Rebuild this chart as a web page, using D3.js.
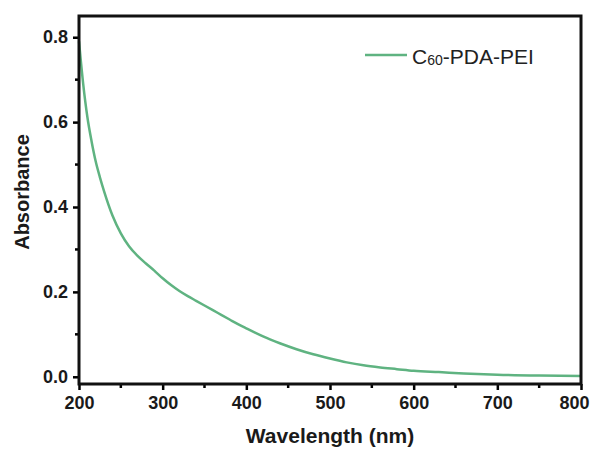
<!DOCTYPE html>
<html>
<head>
<meta charset="utf-8">
<script src="https://cdn.jsdelivr.net/npm/d3@7"></script>
<style>
	body { margin: 0; background: #fff; }
	svg text { font-family: "Liberation Sans", Arial, sans-serif; }
</style>
</head>
<body>
<div id="chart"></div>
<script>
let width = 590;
let height = 450;
let margin = {top: 16, right: 9, bottom: 66, left: 79};

// absorbance spectrum
let wavelength = [200, 205, 210, 215, 220, 225, 230, 240, 250, 260, 270, 280, 290, 300, 310, 320, 330, 340, 350, 360, 370, 380, 390, 400, 420, 440, 460, 480, 500, 520, 540, 560, 580, 600, 630, 660, 700, 750, 800];
let absorbance = [0.79, 0.69, 0.612, 0.555, 0.507, 0.47, 0.437, 0.38, 0.338, 0.307, 0.285, 0.267, 0.25, 0.232, 0.216, 0.202, 0.19, 0.179, 0.168, 0.157, 0.146, 0.135, 0.124, 0.114, 0.095, 0.079, 0.065, 0.053, 0.043, 0.034, 0.027, 0.022, 0.018, 0.014, 0.011, 0.008, 0.005, 0.003, 0.002];

let xTicks = [200, 300, 400, 500, 600, 700, 800];
let yTicks = [0.0, 0.2, 0.4, 0.6, 0.8];
let xMinor = [250, 350, 450, 550, 650, 750];
let yMinor = [0.1, 0.3, 0.5, 0.7];

let color = '#5fb381';

let svg = d3.select('#chart')
	.append('svg')
	.attr('width', width)
	.attr('height', height);

let x = d3.scaleLinear([200, 800], [margin.left, width - margin.right]);
let y = d3.scaleLinear([-0.017, 0.85], [height - margin.bottom, margin.top]);

// curve
let line = d3.line()
	.x((d, i) => x(wavelength[i]))
	.y(d => y(d))
	.curve(d3.curveMonotoneX);

svg.append('path')
	.attr('d', line(absorbance))
	.attr('fill', 'none')
	.attr('stroke', color)
	.attr('stroke-width', 2.5);

// axes
let xAxis = svg.append('g')
	.attr('transform', `translate(0,${height - margin.bottom})`)
	.call(d3.axisBottom(x).tickValues(xTicks).tickSize(6).tickPadding(6).tickFormat(d3.format('d')));

xAxis.selectAll('.minor')
	.data(xMinor)
	.join('line')
	.attr('class', 'minor')
	.attr('x1', d => x(d)).attr('x2', d => x(d))
	.attr('y1', 0).attr('y2', 4)
	.attr('stroke', '#000').attr('stroke-width', 2.5);

let yAxis = svg.append('g')
	.attr('transform', `translate(${margin.left},0)`)
	.call(d3.axisLeft(y).tickValues(yTicks).tickSize(6).tickPadding(5).tickFormat(d3.format('.1f')));

yAxis.selectAll('.minor')
	.data(yMinor)
	.join('line')
	.attr('class', 'minor')
	.attr('y1', d => y(d)).attr('y2', d => y(d))
	.attr('x1', 0).attr('x2', -4)
	.attr('stroke', '#000').attr('stroke-width', 2.5);

for (let g of [xAxis, yAxis]) {
	g.select('.domain').remove();
	g.selectAll('.tick line').attr('stroke', '#000').attr('stroke-width', 2.5);
	g.selectAll('.tick text')
		.attr('fill', '#1a1a1a')
		.attr('font-size', 18)
		.attr('font-weight', 'bold')
		.attr('font-family', '"Liberation Sans", Arial, sans-serif');
}

// last x label is pulled in so it stays inside the page
xAxis.selectAll('.tick text')
	.filter(d => d === 800)
	.attr('text-anchor', 'end')
	.attr('x', 8);

// frame
svg.append('rect')
	.attr('x', margin.left)
	.attr('y', margin.top)
	.attr('width', width - margin.left - margin.right)
	.attr('height', height - margin.top - margin.bottom)
	.attr('fill', 'none')
	.attr('stroke', '#111')
	.attr('stroke-width', 3);

// axis titles
svg.append('text')
	.attr('x', (margin.left + width - margin.right) / 2)
	.attr('y', 443)
	.attr('text-anchor', 'middle')
	.attr('font-size', 21)
	.attr('font-weight', 'bold')
	.attr('fill', '#1a1a1a')
	.text('Wavelength (nm)');

svg.append('text')
	.attr('transform', 'translate(29,192) rotate(-90)')
	.attr('text-anchor', 'middle')
	.attr('font-size', 20)
	.attr('font-weight', 'bold')
	.attr('fill', '#1a1a1a')
	.text('Absorbance');

// legend
let legend = svg.append('g').attr('transform', 'translate(365,55)');
legend.append('line')
	.attr('x1', 0).attr('x2', 42)
	.attr('stroke', color)
	.attr('stroke-width', 2.5);

let lt = legend.append('text')
	.attr('x', 47)
	.attr('y', 9)
	.attr('font-size', 21)
	.attr('fill', '#222');
lt.append('tspan').text('C');
lt.append('tspan').attr('font-size', 14).attr('dy', 1).text('60');
lt.append('tspan').attr('dy', -1).text('-PDA-PEI');
</script>
</body>
</html>
